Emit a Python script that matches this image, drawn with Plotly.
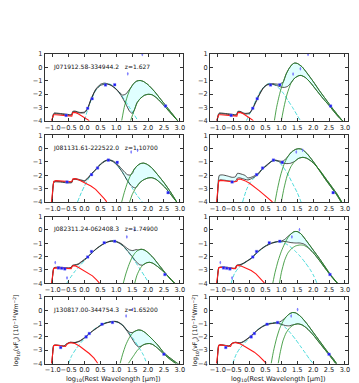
import plotly.graph_objects as go

# source names and redshifts, one per row
NAMES = ["J071912.58-334944.2", "J081131.61-222522.0", "J082311.24-062408.3", "J130817.00-344754.3"]
REDSHIFTS = ["1.627", "1.10700", "1.74900", "1.65200"]

# photometry (log wavelength, log nuFnu), shared by both panels of a row
ROW1_PTS = [(-0.58, -3.6), (0.1, -3.07), (0.24, -2.35), (0.66, -1.32), (0.95, -1.3), (2.55, -2.9)]
ROW1_BARS_L = [(1.36, -0.48), (1.82, 0.97)]
ROW1_BARS_R = [(1.37, -0.5), (1.6, -0.1), (1.84, 0.97)]
ROW2_PTS = [(-0.55, -2.5), (0.22, -1.95), (0.41, -1.45), (0.75, -0.86), (1.03, -1.03), (2.63, -3.3)]
ROW2_BARS = [(1.47, -0.25), (1.67, -0.12)]
ROW3_PTS = [(-0.82, -2.85), (-0.72, -2.88), (-0.62, -2.92), (0.1, -2.03), (0.22, -1.62), (0.62, -0.96), (0.95, -0.85), (2.53, -3.35)]
ROW3_BARS = [(-0.92, -2.45), (-0.55, -3.6), (1.33, -0.52), (1.57, 0.02)]
ROW4_PTS = [(-0.75, -2.8), (0.05, -2.0), (0.15, -1.75), (0.55, -1.05), (0.88, -0.92), (2.5, -3.3)]
ROW4_BARS = [(1.31, -0.43), (1.51, 0.05)]

# ---- row 1, left
P1L_RED = [(-1.04, -4.0), (-1.0, -3.75), (-0.97, -3.55), (-0.9, -3.55), (-0.75, -3.6), (-0.6, -3.62), (-0.5, -3.68),
           (-0.4, -3.66), (-0.37, -3.4), (-0.3, -3.38), (-0.2, -3.48), (-0.1, -3.62), (0.0, -3.78), (0.15, -4.0)]
P1L_CYAN = [(0.0, -4.0), (0.1, -3.15), (0.2, -2.5), (0.35, -1.75), (0.5, -1.35), (0.65, -1.2), (0.8, -1.25),
            (0.95, -1.5), (1.1, -1.9), (1.25, -2.4), (1.4, -2.95), (1.55, -3.5), (1.68, -4.0)]
P1L_GHI = [(1.17, -4.0), (1.25, -3.0), (1.35, -2.15), (1.45, -1.55), (1.55, -1.2), (1.65, -1.02), (1.75, -0.98),
           (1.85, -1.05), (2.0, -1.3), (2.2, -1.8), (2.4, -2.4), (2.55, -2.85), (2.7, -3.3), (2.85, -3.75), (2.93, -4.0)]
P1L_GLO = [(1.45, -4.0), (1.55, -3.3), (1.65, -2.7), (1.75, -2.35), (1.88, -2.1), (2.0, -2.02), (2.12, -2.05),
           (2.25, -2.25), (2.4, -2.6), (2.55, -3.0), (2.7, -3.4), (2.85, -3.8), (2.95, -4.05)]
P1L_BHI = [(-1.02, -4.0), (-0.98, -3.5), (-0.95, -3.42), (-0.8, -3.45), (-0.6, -3.5), (-0.45, -3.55), (-0.4, -3.52),
           (-0.37, -3.3), (-0.3, -3.28), (-0.15, -3.38), (0.0, -3.35), (0.1, -3.05), (0.2, -2.4), (0.35, -1.65),
           (0.5, -1.27), (0.62, -1.18), (0.75, -1.25), (0.9, -1.45), (1.05, -1.75), (1.2, -2.08), (1.3, -2.0),
           (1.4, -1.7)]
P1L_BLO = [(-1.02, -4.0), (-0.98, -3.55), (-0.95, -3.47), (-0.8, -3.5), (-0.6, -3.55), (-0.45, -3.6), (-0.4, -3.57),
           (-0.37, -3.35), (-0.3, -3.33), (-0.15, -3.42), (0.0, -3.4), (0.1, -3.1), (0.2, -2.45), (0.35, -1.7),
           (0.5, -1.35), (0.7, -1.25), (0.85, -1.35), (1.0, -1.65), (1.15, -2.1), (1.3, -2.75), (1.42, -3.3),
           (1.5, -3.45), (1.57, -3.2), (1.65, -2.65)]

# ---- row 1, right
P1R_RED = [(-1.04, -4.0), (-1.0, -3.7), (-0.97, -3.55), (-0.9, -3.55), (-0.75, -3.6), (-0.6, -3.62), (-0.5, -3.68),
           (-0.4, -3.66), (-0.37, -3.4), (-0.3, -3.38), (-0.2, -3.48), (-0.1, -3.62), (0.0, -3.8), (0.12, -4.0)]
P1R_CYAN = [(-0.1, -4.0), (0.0, -3.5), (0.1, -3.0), (0.2, -2.45), (0.35, -1.75), (0.5, -1.35), (0.62, -1.2),
            (0.75, -1.25), (0.9, -1.5), (1.05, -1.9), (1.2, -2.45), (1.35, -3.0), (1.5, -3.6), (1.6, -4.0)]
P1R_GHI = [(0.78, -4.0), (0.85, -3.0), (0.95, -1.95), (1.05, -1.15), (1.15, -0.5), (1.25, -0.05), (1.35, 0.25),
           (1.42, 0.33), (1.5, 0.3), (1.65, 0.05), (1.8, -0.4), (2.0, -1.05), (2.2, -1.75), (2.4, -2.4), (2.6, -3.05),
           (2.8, -3.65), (2.92, -4.0)]
P1R_GLO = [(1.0, -4.0), (1.08, -3.0), (1.18, -2.0), (1.3, -1.2), (1.42, -0.8), (1.55, -0.62), (1.62, -0.6),
           (1.75, -0.75), (1.9, -1.1), (2.1, -1.7), (2.3, -2.3), (2.5, -2.85), (2.7, -3.45), (2.85, -3.85), (2.95, -4.05)]
P1R_BHI = [(-1.02, -4.0), (-0.98, -3.5), (-0.95, -3.42), (-0.8, -3.45), (-0.6, -3.5), (-0.45, -3.55), (-0.4, -3.5),
           (-0.37, -3.3), (-0.3, -3.3), (-0.15, -3.45), (0.0, -3.4), (0.1, -3.05), (0.2, -2.55), (0.3, -2.05),
           (0.42, -1.55), (0.55, -1.28), (0.7, -1.22), (0.85, -1.25), (0.95, -1.28), (1.02, -1.15)]
P1R_BLO = [(-1.02, -4.0), (-0.98, -3.55), (-0.95, -3.47), (-0.8, -3.5), (-0.6, -3.55), (-0.45, -3.6), (-0.4, -3.55),
           (-0.37, -3.35), (-0.3, -3.35), (-0.15, -3.5), (0.0, -3.45), (0.1, -3.1), (0.2, -2.6), (0.3, -2.1),
           (0.42, -1.6), (0.55, -1.32), (0.7, -1.27), (0.85, -1.35), (1.0, -1.48), (1.1, -1.5), (1.2, -1.42),
           (1.28, -1.22)]

# ---- row 2, left
P2L_RED = [(-1.04, -4.0), (-1.0, -3.2), (-0.97, -2.45), (-0.9, -2.4), (-0.75, -2.42), (-0.6, -2.45), (-0.5, -2.5),
           (-0.4, -2.48), (-0.37, -2.28), (-0.3, -2.25), (-0.2, -2.32), (0.0, -2.55), (0.2, -2.8), (0.35, -3.05),
           (0.5, -3.4), (0.62, -3.75), (0.7, -4.0)]
P2L_CYAN = [(-0.22, -4.0), (-0.1, -3.3), (0.0, -2.8), (0.1, -2.35), (0.2, -1.97), (0.35, -1.58), (0.5, -1.18),
            (0.65, -0.92), (0.77, -0.85), (0.9, -0.95), (1.05, -1.3), (1.2, -1.8), (1.35, -2.4), (1.5, -2.95),
            (1.65, -3.5), (1.82, -4.0)]
P2L_GHI = [(1.17, -4.0), (1.25, -3.3), (1.35, -2.55), (1.45, -2.0), (1.55, -1.6), (1.65, -1.3), (1.75, -1.13),
           (1.85, -1.08), (1.95, -1.15), (2.1, -1.4), (2.3, -1.95), (2.5, -2.55), (2.65, -3.05), (2.8, -3.6), (2.9, -4.0)]
P2L_GLO = [(1.42, -4.0), (1.5, -3.45), (1.6, -3.0), (1.72, -2.6), (1.85, -2.35), (2.0, -2.2), (2.12, -2.18),
           (2.25, -2.3), (2.4, -2.6), (2.55, -2.95), (2.7, -3.4), (2.85, -3.85), (2.92, -4.05)]
P2L_BHI = [(-1.02, -4.0), (-0.98, -2.6), (-0.95, -2.45), (-0.8, -2.45), (-0.6, -2.5), (-0.45, -2.52), (-0.4, -2.5),
           (-0.37, -2.3), (-0.3, -2.25), (-0.15, -2.32), (0.0, -2.4), (0.1, -2.2), (0.2, -1.92), (0.35, -1.55),
           (0.5, -1.15), (0.65, -0.9), (0.77, -0.83), (0.9, -0.92), (1.05, -1.2), (1.2, -1.6), (1.35, -1.95),
           (1.45, -1.98), (1.52, -1.8)]
P2L_BLO = [(-1.02, -4.0), (-0.98, -2.65), (-0.95, -2.5), (-0.8, -2.5), (-0.6, -2.55), (-0.45, -2.57), (-0.4, -2.55),
           (-0.37, -2.35), (-0.3, -2.3), (-0.15, -2.37), (0.0, -2.45), (0.1, -2.25), (0.2, -1.97), (0.35, -1.6),
           (0.5, -1.2), (0.65, -0.94), (0.77, -0.86), (0.9, -0.98), (1.05, -1.3), (1.2, -1.8), (1.35, -2.4),
           (1.5, -2.85), (1.6, -2.95), (1.68, -2.75)]

# ---- row 2, right
P2R_RED = [(-1.04, -4.0), (-1.0, -3.0), (-0.97, -2.4), (-0.9, -2.38), (-0.75, -2.42), (-0.6, -2.45), (-0.5, -2.5),
           (-0.4, -2.45), (-0.37, -2.3), (-0.3, -2.28), (-0.15, -2.4), (0.0, -2.6), (0.15, -2.85), (0.3, -3.15),
           (0.45, -3.45), (0.6, -3.75), (0.72, -4.0)]
P2R_CYAN = [(-0.22, -4.0), (-0.1, -3.1), (0.0, -2.6), (0.1, -2.3), (0.25, -1.97), (0.4, -1.55), (0.55, -1.22),
            (0.68, -0.97), (0.78, -0.87), (0.9, -0.95), (1.05, -1.35), (1.2, -1.9), (1.35, -2.6), (1.5, -3.3),
            (1.62, -4.0)]
P2R_GHI = [(0.8, -4.0), (0.88, -3.0), (0.97, -2.05), (1.08, -1.2), (1.2, -0.6), (1.32, -0.25), (1.45, -0.05),
           (1.55, 0.0), (1.65, -0.05), (1.8, -0.35), (2.0, -0.95), (2.2, -1.65), (2.4, -2.35), (2.6, -3.0),
           (2.75, -3.5), (2.88, -4.0)]
P2R_GLO = [(1.0, -4.0), (1.08, -3.0), (1.18, -2.05), (1.3, -1.35), (1.42, -0.95), (1.55, -0.72), (1.68, -0.65),
           (1.8, -0.72), (2.0, -1.05), (2.2, -1.6), (2.4, -2.25), (2.6, -2.9), (2.75, -3.4), (2.9, -4.0)]
P2R_BHI = [(-1.02, -4.0), (-0.98, -2.3), (-0.95, -2.0), (-0.85, -1.97), (-0.7, -2.05), (-0.55, -2.15), (-0.45, -2.12),
           (-0.38, -1.85), (-0.3, -1.88), (-0.15, -2.0), (-0.05, -2.2), (0.1, -2.1), (0.25, -1.9), (0.4, -1.5),
           (0.55, -1.2), (0.68, -0.95), (0.78, -0.85), (0.9, -0.9), (1.0, -0.95), (1.08, -0.9)]
P2R_BLO = [(-1.02, -4.0), (-0.98, -2.55), (-0.95, -2.35), (-0.85, -2.35), (-0.7, -2.4), (-0.55, -2.45), (-0.45, -2.45),
           (-0.38, -2.2), (-0.3, -2.2), (-0.15, -2.3), (-0.05, -2.35), (0.1, -2.2), (0.25, -1.97), (0.4, -1.55),
           (0.55, -1.25), (0.68, -0.98), (0.78, -0.88), (0.9, -0.95), (1.0, -1.05), (1.15, -1.12), (1.28, -1.1),
           (1.38, -1.0)]

# ---- row 3, left
P3L_RED = [(-1.04, -4.0), (-1.0, -3.3), (-0.97, -2.88), (-0.9, -2.85), (-0.8, -2.86), (-0.65, -2.88), (-0.5, -2.93),
           (-0.42, -2.9), (-0.38, -2.7), (-0.3, -2.68), (-0.2, -2.8), (-0.05, -3.0), (0.1, -3.2), (0.25, -3.45),
           (0.38, -3.75), (0.47, -4.0)]
P3L_CYAN = [(-0.56, -4.0), (-0.45, -3.6), (-0.3, -3.1), (-0.15, -2.7), (0.0, -2.3), (0.1, -2.05), (0.2, -1.8),
            (0.35, -1.47), (0.5, -1.2), (0.65, -0.98), (0.8, -0.85), (0.9, -0.83), (1.0, -0.88), (1.15, -1.08),
            (1.3, -1.45), (1.45, -1.9), (1.6, -2.4), (1.75, -2.95), (1.9, -3.5), (2.03, -4.0)]
P3L_GHI = [(1.22, -4.0), (1.3, -3.3), (1.4, -2.6), (1.5, -2.05), (1.6, -1.7), (1.7, -1.5), (1.78, -1.45),
           (1.88, -1.5), (2.0, -1.7), (2.15, -2.05), (2.3, -2.5), (2.45, -2.95), (2.6, -3.4), (2.75, -3.8), (2.84, -4.0)]
P3L_GLO = [(1.58, -4.0), (1.65, -3.4), (1.75, -2.9), (1.85, -2.6), (1.95, -2.47), (2.05, -2.43), (2.15, -2.5),
           (2.3, -2.75), (2.45, -3.05), (2.6, -3.4), (2.75, -3.8), (2.88, -4.1)]
P3L_BHI = [(-1.02, -4.0), (-0.98, -2.95), (-0.95, -2.82), (-0.8, -2.8), (-0.65, -2.82), (-0.5, -2.85), (-0.42, -2.82),
           (-0.38, -2.65), (-0.3, -2.62), (-0.2, -2.55), (-0.1, -2.38), (0.0, -2.2), (0.1, -2.02), (0.2, -1.78),
           (0.35, -1.45), (0.5, -1.18), (0.65, -0.97), (0.8, -0.84), (0.9, -0.82), (1.0, -0.86), (1.15, -1.02),
           (1.3, -1.3), (1.42, -1.5), (1.52, -1.55), (1.62, -1.48)]
P3L_BLO = [(-1.02, -4.0), (-0.98, -2.98), (-0.95, -2.85), (-0.8, -2.83), (-0.65, -2.85), (-0.5, -2.88), (-0.42, -2.85),
           (-0.38, -2.68), (-0.3, -2.65), (-0.2, -2.6), (-0.1, -2.42), (0.0, -2.25), (0.1, -2.05), (0.2, -1.8),
           (0.35, -1.47), (0.5, -1.2), (0.65, -0.99), (0.8, -0.86), (0.9, -0.84), (1.0, -0.89), (1.15, -1.07),
           (1.3, -1.42), (1.45, -1.85), (1.6, -2.3), (1.72, -2.6), (1.82, -2.65), (1.9, -2.55)]

# ---- row 3, right
P3R_RED = [(-1.04, -4.0), (-1.0, -3.2), (-0.97, -2.82), (-0.9, -2.8), (-0.75, -2.84), (-0.6, -2.88), (-0.5, -2.93),
           (-0.44, -2.9), (-0.41, -2.68), (-0.35, -2.66), (-0.25, -2.72), (-0.1, -2.9), (0.05, -3.05), (0.2, -3.3),
           (0.35, -3.65), (0.47, -4.0)]
P3R_CYAN = [(-0.58, -4.0), (-0.48, -3.3), (-0.35, -2.85), (-0.2, -2.55), (-0.05, -2.3), (0.1, -2.02), (0.25, -1.7),
            (0.4, -1.38), (0.55, -1.12), (0.7, -0.98), (0.85, -0.9), (1.0, -0.92), (1.15, -1.05), (1.3, -1.3),
            (1.45, -1.62), (1.6, -2.0), (1.75, -2.45), (1.9, -2.95), (2.02, -3.45), (2.12, -4.0)]
P3R_GHI = [(0.73, -4.0), (0.8, -3.2), (0.9, -2.3), (1.0, -1.6), (1.1, -1.05), (1.2, -0.6), (1.3, -0.3),
           (1.4, -0.13), (1.5, -0.12), (1.62, -0.3), (1.8, -0.85), (2.0, -1.5), (2.2, -2.15), (2.4, -2.85),
           (2.56, -3.4), (2.68, -3.75), (2.77, -4.0)]
P3R_GLO = [(0.94, -4.0), (1.0, -3.2), (1.1, -2.3), (1.2, -1.75), (1.32, -1.4), (1.45, -1.2), (1.58, -1.13),
           (1.7, -1.15), (1.85, -1.35), (2.0, -1.7), (2.2, -2.3), (2.4, -2.95), (2.56, -3.45), (2.7, -3.85), (2.78, -4.05)]
P3R_BHI = [(-1.02, -4.0), (-0.98, -2.9), (-0.95, -2.8), (-0.8, -2.78), (-0.6, -2.84), (-0.5, -2.88), (-0.44, -2.85),
           (-0.41, -2.65), (-0.3, -2.6), (-0.2, -2.5), (-0.1, -2.35), (0.05, -2.12), (0.2, -1.75), (0.35, -1.45),
           (0.5, -1.2), (0.68, -0.99), (0.85, -0.88), (1.0, -0.84), (1.1, -0.72), (1.2, -0.5)]
P3R_BLO = [(-1.02, -4.0), (-0.98, -2.93), (-0.95, -2.83), (-0.8, -2.81), (-0.6, -2.87), (-0.5, -2.91), (-0.44, -2.88),
           (-0.41, -2.68), (-0.3, -2.63), (-0.2, -2.53), (-0.1, -2.38), (0.05, -2.15), (0.2, -1.78), (0.35, -1.48),
           (0.5, -1.23), (0.68, -1.02), (0.85, -0.9), (1.0, -0.86), (1.15, -0.88), (1.3, -0.95), (1.45, -0.98),
           (1.58, -0.98), (1.7, -1.05), (1.8, -1.2)]

# ---- row 4, left
P4L_RED = [(-1.04, -4.0), (-1.0, -3.0), (-0.97, -2.65), (-0.9, -2.62), (-0.8, -2.65), (-0.7, -2.7), (-0.6, -2.72),
           (-0.55, -2.55), (-0.48, -2.45), (-0.4, -2.45), (-0.3, -2.5), (-0.15, -2.7), (0.0, -2.95), (0.15, -3.25),
           (0.3, -3.6), (0.42, -4.0)]
P4L_CYAN = [(-0.5, -4.0), (-0.4, -3.4), (-0.25, -2.85), (-0.1, -2.4), (0.05, -2.0), (0.2, -1.65), (0.35, -1.35),
            (0.5, -1.12), (0.65, -0.95), (0.8, -0.86), (0.95, -0.84), (1.1, -0.95), (1.25, -1.25), (1.4, -1.7),
            (1.55, -2.2), (1.7, -2.75), (1.85, -3.35), (1.96, -4.0)]
P4L_GHI = [(1.12, -4.0), (1.2, -3.3), (1.3, -2.6), (1.4, -2.1), (1.5, -1.75), (1.6, -1.56), (1.7, -1.48),
           (1.8, -1.52), (1.92, -1.7), (2.1, -2.1), (2.3, -2.6), (2.5, -3.2), (2.7, -3.6), (2.9, -3.95), (3.0, -4.1)]
P4L_GLO = [(1.38, -4.0), (1.45, -3.75), (1.55, -3.4), (1.65, -3.05), (1.75, -2.8), (1.85, -2.6), (1.95, -2.52),
           (2.05, -2.5), (2.15, -2.58), (2.3, -2.85), (2.5, -3.3), (2.7, -3.7), (2.9, -4.05)]
P4L_BHI = [(-1.02, -4.0), (-0.98, -2.7), (-0.95, -2.62), (-0.8, -2.63), (-0.65, -2.68), (-0.55, -2.5), (-0.45, -2.4),
           (-0.3, -2.42), (-0.15, -2.3), (0.0, -2.05), (0.1, -1.85), (0.25, -1.55), (0.4, -1.3), (0.55, -1.07),
           (0.7, -0.93), (0.85, -0.85), (0.95, -0.83), (1.05, -0.88), (1.2, -1.1), (1.32, -1.45), (1.42, -1.65),
           (1.5, -1.68), (1.58, -1.58)]
P4L_BLO = [(-1.02, -4.0), (-0.98, -2.72), (-0.95, -2.64), (-0.8, -2.65), (-0.65, -2.7), (-0.55, -2.52), (-0.45, -2.42),
           (-0.3, -2.44), (-0.15, -2.33), (0.0, -2.08), (0.1, -1.88), (0.25, -1.58), (0.4, -1.32), (0.55, -1.09),
           (0.7, -0.95), (0.85, -0.87), (0.95, -0.85), (1.05, -0.9), (1.2, -1.15), (1.35, -1.6), (1.5, -2.15),
           (1.62, -2.6), (1.7, -2.75), (1.78, -2.7)]

# ---- row 4, right
P4R_RED = [(-1.04, -4.0), (-1.0, -3.0), (-0.97, -2.62), (-0.9, -2.6), (-0.8, -2.65), (-0.7, -2.7), (-0.6, -2.72),
           (-0.55, -2.5), (-0.48, -2.42), (-0.4, -2.45), (-0.3, -2.52), (-0.15, -2.72), (0.0, -2.93), (0.15, -3.15),
           (0.3, -3.45), (0.42, -3.7), (0.53, -4.0)]
P4R_CYAN = [(-0.53, -4.0), (-0.42, -3.3), (-0.3, -2.85), (-0.15, -2.45), (0.0, -2.05), (0.15, -1.7), (0.3, -1.38),
            (0.45, -1.15), (0.6, -1.0), (0.72, -0.94), (0.85, -0.95), (1.0, -1.08), (1.15, -1.35), (1.3, -1.75),
            (1.45, -2.2), (1.6, -2.7), (1.75, -3.2), (1.88, -3.65), (2.0, -4.0)]
P4R_GHI = [(0.68, -4.0), (0.75, -3.1), (0.85, -2.1), (0.95, -1.35), (1.05, -0.85), (1.15, -0.5), (1.25, -0.28),
           (1.35, -0.17), (1.45, -0.2), (1.6, -0.45), (1.8, -1.0), (2.0, -1.65), (2.2, -2.3), (2.4, -2.95),
           (2.55, -3.4), (2.68, -3.8), (2.75, -4.05)]
P4R_GLO = [(0.9, -4.0), (0.97, -3.1), (1.05, -2.3), (1.15, -1.7), (1.27, -1.3), (1.4, -1.08), (1.52, -1.02),
           (1.65, -1.1), (1.8, -1.35), (2.0, -1.85), (2.2, -2.45), (2.4, -3.05), (2.55, -3.5), (2.68, -3.9), (2.74, -4.1)]
P4R_BHI = [(-1.02, -4.0), (-0.98, -2.7), (-0.95, -2.6), (-0.8, -2.62), (-0.65, -2.68), (-0.55, -2.48), (-0.45, -2.4),
           (-0.3, -2.45), (-0.2, -2.35), (-0.05, -2.1), (0.1, -1.8), (0.25, -1.48), (0.4, -1.22), (0.55, -1.05),
           (0.7, -0.98), (0.85, -0.93), (0.95, -0.88), (1.05, -0.72)]
P4R_BLO = [(-1.02, -4.0), (-0.98, -2.72), (-0.95, -2.62), (-0.8, -2.64), (-0.65, -2.7), (-0.55, -2.5), (-0.45, -2.42),
           (-0.3, -2.47), (-0.2, -2.38), (-0.05, -2.13), (0.1, -1.83), (0.25, -1.5), (0.4, -1.25), (0.55, -1.08),
           (0.7, -1.0), (0.85, -0.96), (1.0, -1.05), (1.12, -1.15), (1.25, -1.17), (1.35, -1.1)]

PANELS = [
    (0, 0, P1L_RED, P1L_CYAN, P1L_GHI, P1L_GLO, P1L_BHI, P1L_BLO, ROW1_PTS, ROW1_BARS_L),
    (0, 1, P1R_RED, P1R_CYAN, P1R_GHI, P1R_GLO, P1R_BHI, P1R_BLO, ROW1_PTS, ROW1_BARS_R),
    (1, 0, P2L_RED, P2L_CYAN, P2L_GHI, P2L_GLO, P2L_BHI, P2L_BLO, ROW2_PTS, ROW2_BARS),
    (1, 1, P2R_RED, P2R_CYAN, P2R_GHI, P2R_GLO, P2R_BHI, P2R_BLO, ROW2_PTS, ROW2_BARS),
    (2, 0, P3L_RED, P3L_CYAN, P3L_GHI, P3L_GLO, P3L_BHI, P3L_BLO, ROW3_PTS, ROW3_BARS),
    (2, 1, P3R_RED, P3R_CYAN, P3R_GHI, P3R_GLO, P3R_BHI, P3R_BLO, ROW3_PTS, ROW3_BARS),
    (3, 0, P4L_RED, P4L_CYAN, P4L_GHI, P4L_GLO, P4L_BHI, P4L_BLO, ROW4_PTS, ROW4_BARS),
    (3, 1, P4R_RED, P4R_CYAN, P4R_GHI, P4R_GLO, P4R_BHI, P4R_BLO, ROW4_PTS, ROW4_BARS),
]

W, H = 359, 383
COL_X = [(37, 176), (203, 342)]
ROW_TOP = [43, 126, 209, 291]
PANEL_H = 68
X_RANGE = [-1.25, 3.1]
FONT = "DejaVu Sans"
AXCOL = "#333333"


def xs(pts):
    return [p[0] for p in pts]


def ys(pts):
    return [p[1] for p in pts]


def with_dust(black, green):
    # total model: near-IR part, then it rides on the dust curve
    return black + [p for p in green if p[0] > black[-1][0] + 0.02]


fig = go.Figure()
layout = {}
annotations = []

for i, (row, col, red, cyan, ghi, glo, bhi, blo, pts, bars) in enumerate(PANELS, start=1):
    xa = "x" if i == 1 else f"x{i}"
    ya = "y" if i == 1 else f"y{i}"
    ax = dict(xaxis=xa, yaxis=ya, showlegend=False, hoverinfo="skip")
    spline = dict(shape="spline", smoothing=0.6)

    lo_full = with_dust(blo, glo)
    hi_full = with_dust(bhi, ghi)
    fig.add_trace(go.Scatter(x=xs(lo_full), y=ys(lo_full), mode="lines", line=dict(width=0, **spline), **ax))
    fig.add_trace(go.Scatter(x=xs(hi_full), y=ys(hi_full), mode="lines", line=dict(width=0, **spline),
                             fill="tonexty", fillcolor="#e0ffff", **ax))
    fig.add_trace(go.Scatter(x=xs(cyan), y=ys(cyan), mode="lines",
                             line=dict(color="#33d6d6", width=0.9, dash="4px,2px", **spline), **ax))
    for tot in (lo_full, hi_full):
        fig.add_trace(go.Scatter(x=xs(tot), y=ys(tot), mode="lines",
                                 line=dict(color="#222222", width=0.8, **spline), **ax))
    fig.add_trace(go.Scatter(x=xs(red), y=ys(red), mode="lines",
                             line=dict(color="#ff1a1a", width=1.1), **ax))
    for g in (glo, ghi):
        fig.add_trace(go.Scatter(x=xs(g), y=ys(g), mode="lines",
                                 line=dict(color="#228b22", width=0.8, **spline), **ax))
    fig.add_trace(go.Scatter(x=xs(pts), y=ys(pts), mode="markers",
                             marker=dict(symbol="square", size=2.6, color="#1a1aee",
                                         line=dict(color="#8080ff", width=0.4)),
                             error_y=dict(type="constant", value=0.05, color="#3030ff", thickness=0.7, width=0),
                             **ax))
    fig.add_trace(go.Scatter(x=xs(bars), y=ys(bars), mode="markers",
                             marker=dict(symbol="square", size=1.6, color="#8080ff"),
                             error_y=dict(type="constant", value=0.12, color="#4040ff", thickness=0.7, width=0),
                             **ax))

    x0, x1 = COL_X[col]
    top = ROW_TOP[row]
    common = dict(ticks="inside", ticklen=3, tickwidth=0.7, tickcolor=AXCOL, showline=True, linecolor=AXCOL,
                  linewidth=0.8, mirror="ticks", showgrid=False, zeroline=False,
                  tickfont=dict(family=FONT, size=6.6, color="#222222"))
    layout["xaxis" if i == 1 else f"xaxis{i}"] = dict(
        domain=[x0 / W, x1 / W], anchor=ya, range=X_RANGE, tick0=0, dtick=0.5, tickformat=".1f",
        tickangle=0, **common)
    layout["yaxis" if i == 1 else f"yaxis{i}"] = dict(
        domain=[1 - (top + PANEL_H) / H, 1 - top / H], anchor=xa, range=[-4, 1], tick0=0, dtick=1,
        **common)

    if col == 0:
        label = NAMES[row] + "\u00a0\u00a0\u00a0z=" + REDSHIFTS[row]
        annotations.append(dict(xref=xa, yref=ya, x=-1.06, y=0.05, text=label, showarrow=False,
                                xanchor="left", yanchor="middle", font=dict(family=FONT, size=6.0, color="#111")))

YLABEL = "log<sub>10</sub>(νF<sub>ν</sub>) [10<sup>−14</sup>Wm<sup>−2</sup>]"
XLABEL = "log<sub>10</sub>(Rest Wavelength [μm])"
row4_mid = 1 - (ROW_TOP[3] + PANEL_H / 2) / H
for (x0, x1), ylab_x in zip(COL_X, (8, 188)):
    annotations.append(dict(xref="paper", yref="paper", x=ylab_x / W, y=row4_mid, text=YLABEL, textangle=-90,
                            showarrow=False, xanchor="center", yanchor="middle",
                            font=dict(family=FONT, size=6.2, color="#111")))
    annotations.append(dict(xref="paper", yref="paper", x=(x0 + x1) / 2 / W, y=1 - 375 / H, text=XLABEL,
                            showarrow=False, xanchor="center", yanchor="middle",
                            font=dict(family=FONT, size=6.6, color="#111")))

fig.update_layout(**layout)
fig.update_layout(width=W, height=H, margin=dict(l=0, r=0, t=0, b=0), paper_bgcolor="white",
                  plot_bgcolor="white", annotations=annotations, font=dict(family=FONT))

fig.write_html("out.html")
